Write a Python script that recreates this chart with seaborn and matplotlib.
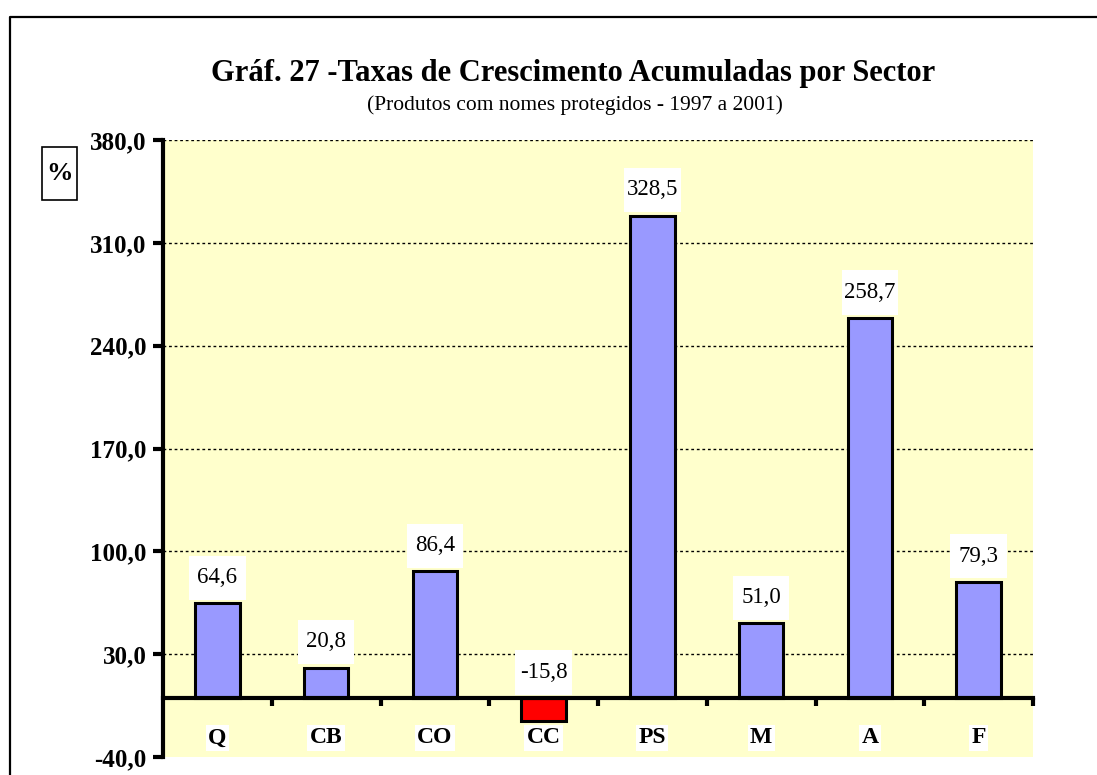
import numpy as np
import matplotlib
matplotlib.use("Agg")
import matplotlib.pyplot as plt
import seaborn as sns
from matplotlib.patches import Rectangle
from matplotlib.lines import Line2D
from matplotlib.ticker import FuncFormatter

categories = ["Q", "CB", "CO", "CC", "PS", "M", "A", "F"]
values = [64.6, 20.8, 86.4, -15.8, 328.5, 51.0, 258.7, 79.3]
yticks = [-40, 30, 100, 170, 240, 310, 380]
title = "Gráf. 27 -Taxas de Crescimento Acumuladas por Sector"
subtitle = "(Produtos com nomes protegidos - 1997 a 2001)"

sns.set_style("white")
plt.rcParams["font.family"] = ["Liberation Serif", "DejaVu Serif"]
plt.rcParams["text.color"] = "black"
plt.rcParams["xtick.color"] = "black"
plt.rcParams["ytick.color"] = "black"
plt.rcParams["axes.labelcolor"] = "black"

W, H = 1097, 775
fig = plt.figure(figsize=(W / 100, H / 100), dpi=100)
ax = fig.add_axes([163 / W, 1 - 757 / H, (1033 - 163) / W, (757 - 140) / H])
ax.set_facecolor("#FFFFCC")

colors = ["#FF0000" if v < 0 else "#9999FF" for v in values]
sns.barplot(x=categories, y=values, hue=categories, palette=colors, width=0.41,
            edgecolor="black", linewidth=2.2, legend=False, ax=ax, zorder=3,
            saturation=1)

ax.set_xlim(-0.5, 7.5)
ax.set_ylim(-40, 380)
ax.set_yticks(yticks)
ax.yaxis.set_major_formatter(FuncFormatter(lambda v, p: f"{v:.1f}".replace(".", ",")))
ax.tick_params(axis="y", left=True, direction="out", length=7, width=3,
               labelsize=18, pad=5, colors="black")
for lab in ax.get_yticklabels():
    lab.set_fontweight("bold")

ax.set_xticks(np.arange(0.5, len(categories), 1))
ax.set_xticklabels([])
ax.tick_params(axis="x", bottom=True, direction="out", length=6, width=3,
               colors="black")

ax.spines["top"].set_visible(False)
ax.spines["right"].set_visible(False)
ax.spines["left"].set_linewidth(3)
ax.spines["left"].set_color("black")
ax.spines["bottom"].set_linewidth(3)
ax.spines["bottom"].set_color("black")
ax.spines["bottom"].set_position(("data", 0))
ax.spines["bottom"].set_zorder(4)
ax.set_xlabel("")
ax.set_ylabel("")

ax.yaxis.grid(True, color="black", linestyle=(0, (2, 2)), linewidth=1)
ax.get_ygridlines()[0].set_visible(False)
ax.set_axisbelow(True)

# value labels with white boxes
bw, bh, gap = 0.52, 30, 2.5
for i, v in enumerate(values):
    base = max(v, 0) + gap
    ax.add_patch(Rectangle((i - bw / 2, base), bw, bh, facecolor="white",
                           edgecolor="none", zorder=5))
    ax.text(i, base + bh / 2, f"{v:.1f}".replace(".", ","), ha="center",
            va="center", fontsize=16.5, zorder=6, color="black")

# category labels
for i, c in enumerate(categories):
    ax.text(i, -27, c, ha="center", va="center", fontsize=17, fontweight="bold",
            zorder=6, color="black",
            bbox=dict(boxstyle="square,pad=0.1", facecolor="white", edgecolor="none"))

fig.text(573 / W, 1 - 73 / H, title, ha="center", va="center", fontsize=22,
         fontweight="bold", color="black")
fig.text(575 / W, 1 - 105 / H, subtitle, ha="center", va="center", fontsize=15.5,
         color="black")

# % box
fig.add_artist(Rectangle((42 / W, 1 - 200 / H), 35 / W, 53 / H, transform=fig.transFigure,
                         facecolor="white", edgecolor="black", linewidth=1.2))
fig.text(59.5 / W, 1 - 174 / H, "%", ha="center", va="center", fontsize=19,
         fontweight="bold", color="black")

# outer frame (left & top)
fig.add_artist(Line2D([10 / W, 10 / W, 1.01], [-0.01, 1 - 17 / H, 1 - 17 / H],
                      transform=fig.transFigure, color="black", linewidth=1.6))

fig.savefig("out.png", dpi=100)
